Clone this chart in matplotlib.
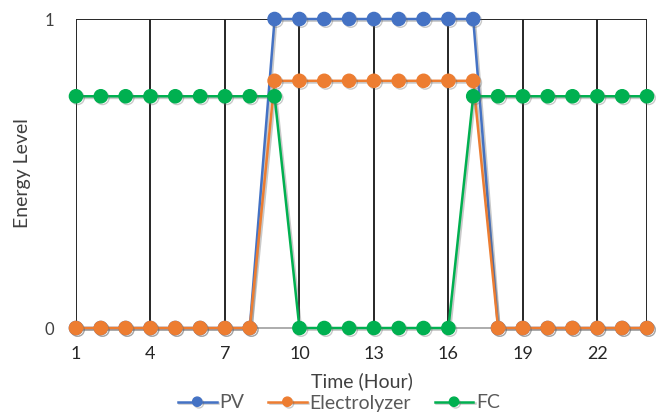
import numpy as np
import matplotlib
matplotlib.use('Agg')
import matplotlib.pyplot as plt
import matplotlib.patheffects as pe

# Hourly levels
hours = list(range(1, 25))
pv = [0]*8 + [1]*9 + [0]*7
electrolyzer = [0]*8 + [0.8]*9 + [0]*7
fc = [0.75]*9 + [0]*7 + [0.75]*8
x_ticks = [1, 4, 7, 10, 13, 16, 19, 22]
y_ticks = [0, 1]

plt.rcParams['font.family'] = ['Lato', 'DejaVu Sans']

fig = plt.figure(figsize=(6.59, 4.16), dpi=100)
fig.patch.set_facecolor('white')
ax = fig.add_axes([0.1153, 0.2115, 0.8665, 0.7428])

# vertical gridlines
for xv in x_ticks + [24]:
    ax.axvline(xv, color='#262626', lw=1.4, zorder=1)
ax.axhline(1, color='#262626', lw=1.4, zorder=1)

shadow = [pe.SimpleLineShadow(offset=(1.2, -1.2), shadow_color='#666666', alpha=0.35), pe.Normal()]
series = [('PV', pv, '#4472C4'), ('Electrolyzer', electrolyzer, '#ED7D31'), ('FC', fc, '#00B050')]
for name, vals, col in series:
    ax.plot(hours, vals, color=col, lw=1.8, marker='o', markersize=9.5,
            label=name, zorder=3, path_effects=shadow, clip_on=False)

ax.set_xlim(1, 24)
ax.set_ylim(0, 1)
ax.set_xticks(x_ticks)
ax.set_yticks(y_ticks)
ax.tick_params(axis='x', length=0, labelsize=13, colors='#262626', pad=13)
ax.tick_params(axis='y', length=0, labelsize=12, colors='#404040', pad=16)
for s in ['left', 'right', 'top']:
    ax.spines[s].set_visible(False)
ax.spines['bottom'].set_color('#a6a6a6')
ax.spines['bottom'].set_linewidth(1.3)

ax.set_xlabel('Time (Hour)', fontsize=14, color='#404040')
ax.xaxis.label.set_va('center')
ax.xaxis.set_label_coords(0.5009, -0.1715)
ax.set_ylabel('Energy Level', fontsize=14, color='#404040')
ax.yaxis.label.set_va('center')
ax.yaxis.set_label_coords(-0.093, 0.5)

leg = ax.legend(loc='center', bbox_to_anchor=(339 / 659, 1 - 403 / 416),
                bbox_transform=fig.transFigure, ncol=3, frameon=False,
                fontsize=14, handlelength=2.0, handletextpad=0.15, columnspacing=1.2,
                markerscale=0.7, labelcolor='#595959', borderpad=0, borderaxespad=0)

fig.savefig('out.png', dpi=100, facecolor='white')
